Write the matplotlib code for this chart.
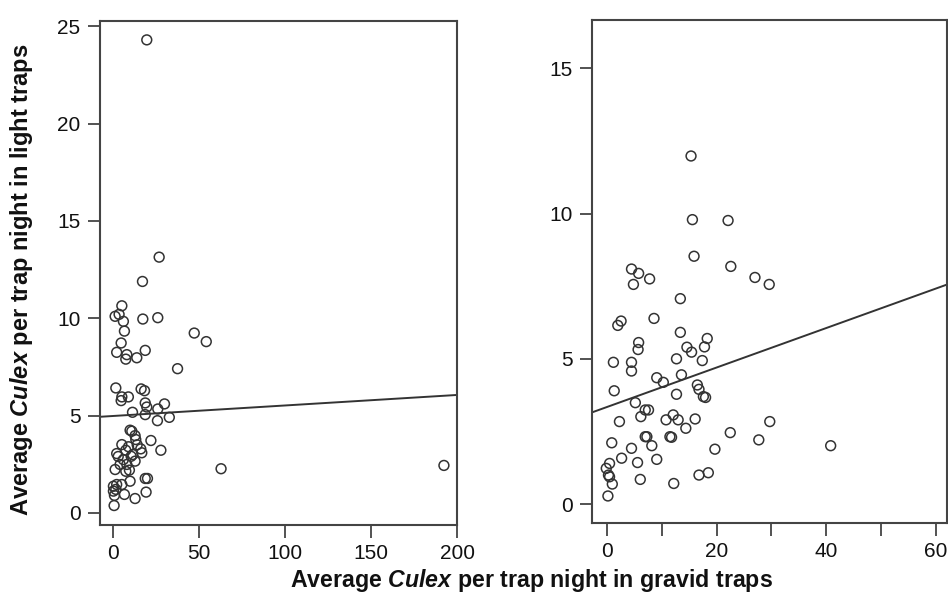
import matplotlib
matplotlib.use("Agg")
import matplotlib.pyplot as plt
from matplotlib.ticker import MultipleLocator

plt.rcParams['font.family'] = ['Liberation Sans', 'DejaVu Sans']
plt.rcParams['mathtext.fontset'] = 'custom'
plt.rcParams['mathtext.rm'] = 'Liberation Sans:bold'
plt.rcParams['mathtext.bfit'] = 'Liberation Sans:italic:bold'
plt.rcParams['mathtext.it'] = 'Liberation Sans:italic:bold'

# Left panel: all sites (gravid x, light y)
left_x = [19.6, 26.8, 17.1, 5.1, 1.2, 3.5, 6.0, 17.3, 26.0, 6.6, 47.2, 54.2, 4.7, 2.1,
          8.0, 7.4, 13.8, 18.7, 37.5, 1.6, 5.1, 8.9, 4.7, 16.3, 18.3, 18.7, 19.6, 29.9,
          26.0, 11.3, 18.7, 25.8, 32.7, 9.9, 10.9, 12.8, 13.2, 22.0, 27.8, 62.8, 5.1,
          2.1, 7.4, 16.1, 16.7, 10.5, 6.0, 12.8, 4.1, 8.0, 1.2, 7.4, 9.9, 18.7, 20.0,
          0.2, 2.1, 5.1, 0.2, 1.6, 6.6, 12.8, 19.2, 0.6, 0.8, 192.4,
          11.5, 9.0, 14.0, 3.0, 9.5]
left_y = [24.3, 13.14, 11.89, 10.64, 10.1, 10.2, 9.84, 9.96, 10.03, 9.34, 9.24, 8.8, 8.73, 8.25,
          8.13, 7.9, 7.97, 8.35, 7.41, 6.42, 5.96, 5.96, 5.77, 6.37, 6.28, 5.65, 5.44, 5.6,
          5.34, 5.17, 5.05, 4.74, 4.91, 4.25, 4.2, 3.97, 3.77, 3.72, 3.22, 2.27, 3.51,
          3.05, 3.22, 3.29, 3.09, 2.91, 2.74, 2.66, 2.49, 2.49, 2.23, 2.14, 1.63, 1.77, 1.77,
          1.37, 1.46, 1.46, 1.12, 1.21, 0.95, 0.74, 1.07, 0.38, 0.9, 2.44,
          3.0, 3.4, 3.5, 2.9, 2.2]
left_fit = (4.98, 0.0054)   # intercept, slope

# Right panel
right_x = [15.35, 15.6, 22.1, 15.9, 4.5, 5.8, 7.8, 4.85, 22.6, 27.0, 29.6, 13.4, 8.6, 2.0,
           2.6, 13.4, 18.3, 5.8, 5.7, 14.6, 15.45, 17.8, 1.2, 4.5, 12.7, 17.4, 4.5, 1.35,
           5.2, 9.1, 10.3, 13.6, 12.7, 16.5, 16.8, 17.6, 18.0, 7.0, 7.6, 6.2, 2.3, 10.8,
           12.1, 13.0, 16.1, 14.4, 22.5, 29.7, 0.9, 7.0, 7.3, 11.5, 11.8, 8.2, 4.5, 27.7,
           19.7, 40.8, 2.7, 9.1, 5.6, 0.5, -0.1, 0.3, 0.5, 1.0, 6.1, 16.8, 18.5, 12.2, 0.2]
right_y = [11.98, 9.79, 9.76, 8.53, 8.09, 7.94, 7.75, 7.56, 8.18, 7.80, 7.56, 7.07, 6.39, 6.15,
           6.30, 5.91, 5.70, 5.56, 5.32, 5.40, 5.23, 5.41, 4.88, 4.88, 5.0, 4.94, 4.58, 3.90,
           3.49, 4.35, 4.19, 4.45, 3.78, 4.10, 3.95, 3.70, 3.67, 3.24, 3.24, 3.01, 2.84, 2.90,
           3.07, 2.90, 2.93, 2.61, 2.46, 2.84, 2.11, 2.32, 2.32, 2.32, 2.30, 2.01, 1.92, 2.21,
           1.89, 2.01, 1.58, 1.54, 1.43, 1.40, 1.23, 1.0, 0.94, 0.69, 0.85, 1.0, 1.08, 0.71, 0.28]
right_fit = (3.34, 0.068)

left_xticks = [0, 50, 100, 150, 200]
left_yticks = [0, 5, 10, 15, 20, 25]
right_xticks = [0, 20, 40, 60]
right_yticks = [0, 5, 10, 15]

xlabel = r"Average $\mathbfit{Culex}$ per trap night in gravid traps"
ylabel = r"Average $\mathbfit{Culex}$ per trap night in light traps"

W, H = 948, 599
fig = plt.figure(figsize=(W / 100, H / 100), dpi=100)
axL = fig.add_axes([100 / W, 1 - 525 / H, (457 - 100) / W, (525 - 21) / H])
axR = fig.add_axes([592 / W, 1 - 523 / H, (947 - 592) / W, (523 - 20) / H])

ink = '#333333'
for ax in (axL, axR):
    for s in ax.spines.values():
        s.set_color('#444444')
        s.set_linewidth(1.5)
    ax.tick_params(which='both', direction='out', length=9, width=1.3, color='#444444',
                   labelsize=15, pad=5, labelcolor='#111111')

axL.scatter(left_x, left_y, s=50, facecolors='none', edgecolors=ink, linewidths=1.1, zorder=3)
axL.set_xlim(-7.6, 200)
axL.set_ylim(-0.62, 25.27)
axL.set_xticks(left_xticks)
axL.set_yticks(left_yticks)
xl = axL.get_xlim()
axL.plot(xl, [left_fit[0] + left_fit[1] * v for v in xl], color=ink, lw=1.4, zorder=2)

axR.scatter(right_x, right_y, s=50, facecolors='none', edgecolors=ink, linewidths=1.1, zorder=3)
axR.set_xlim(-2.7, 62)
axR.set_ylim(-0.65, 16.66)
axR.set_xticks(right_xticks)
axR.xaxis.set_minor_locator(MultipleLocator(10))
axR.set_yticks(right_yticks)
xr = axR.get_xlim()
axR.plot(xr, [right_fit[0] + right_fit[1] * v for v in xr], color=ink, lw=1.4, zorder=2)

fig.text(531 / W, 1 - 581 / H, xlabel, ha='center', va='center', fontsize=16.7,
         fontweight='bold', color='#111111')
fig.text(22 / W, 1 - 280 / H, ylabel, ha='center', va='center', rotation=90,
         fontsize=17, fontweight='bold', color='#111111')

fig.savefig('out.png', dpi=100)
